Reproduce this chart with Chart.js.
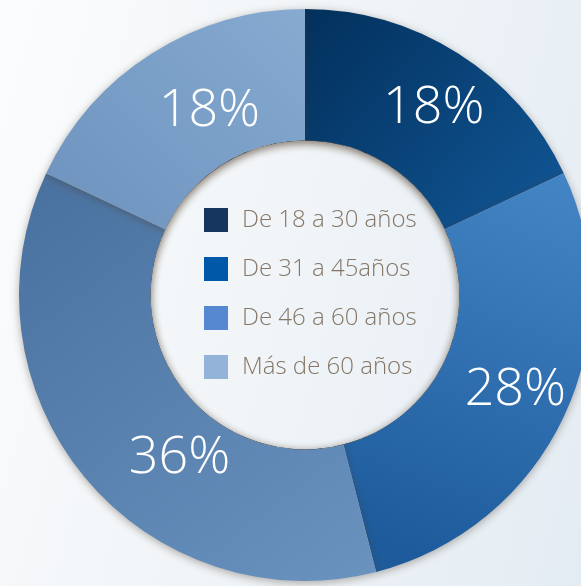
<!DOCTYPE html>
<html>
<head>
<meta charset="utf-8">
<script src="https://cdn.jsdelivr.net/npm/chart.js@4.4.0/dist/chart.umd.min.js"></script>
<style>
  html, body { margin: 0; padding: 0; width: 581px; height: 586px; overflow: hidden; }
  body { position: relative; background: linear-gradient(105deg, #fbfcfd 0%, #f1f5f8 45%, #e4ecf3 100%); }
  #wrap { position: absolute; left: 5px; top: -5px; width: 600px; height: 600px; }
</style>
</head>
<body>
<div id="wrap"><canvas id="ages" width="600" height="600"></canvas></div>
<script>
const labels = ["De 18 a 30 años", "De 31 a 45años", "De 46 a 60 años", "Más de 60 años"];
const shares = [18, 28, 36, 18];
const legendColors = ["#17365f", "#0059a8", "#5588d0", "#94b3d8"];

// slice shading: [start colour, end colour, x0, y0, x1, y1] as fractions of the chart area
const sliceShade = [
  ["#02305c", "#125898", 0.5, 0.0, 0.95, 0.4],
  ["#4385c4", "#1d5b9c", 0.95, 0.3, 0.7, 0.95],
  ["#4a72a0", "#6a92bf", 0.05, 0.3, 0.6, 1.0],
  ["#6e94bf", "#86aad0", 0.1, 0.4, 0.5, 0.0]
];

// where each % label sits: angle shift (deg) and position across the ring (0 inner, 1 outer)
const labelPlace = [[2.2, 0.55], [-0.9, 0.58], [-12.8, 0.39], [4.9, 0.40]];

function sliceColor(ctx) {
  const chart = ctx.chart;
  const a = chart.chartArea;
  if (!a) return legendColors[ctx.dataIndex];
  const s = sliceShade[ctx.dataIndex];
  const w = a.right - a.left, h = a.bottom - a.top;
  const g = chart.ctx.createLinearGradient(a.left + s[2] * w, a.top + s[3] * h, a.left + s[4] * w, a.top + s[5] * h);
  g.addColorStop(0, s[0]);
  g.addColorStop(1, s[1]);
  return g;
}

const shadowPlugin = {
  id: "shadows",
  beforeDatasetsDraw(chart) {
    const c = chart.ctx;
    c.save();
    c.shadowColor = "rgba(70, 55, 40, 0.4)";
    c.shadowBlur = 8;
    c.shadowOffsetY = 2;
  },
  afterDatasetsDraw(chart) {
    const c = chart.ctx;
    c.restore();
    const arc = chart.getDatasetMeta(0).data[0];
    const p = arc.getProps(["x", "y", "innerRadius", "outerRadius"], true);

    // inner shadow of the hole
    c.save();
    c.beginPath();
    c.arc(p.x, p.y, p.innerRadius, 0, Math.PI * 2);
    c.clip();
    c.beginPath();
    c.arc(p.x, p.y, p.innerRadius + 20, 0, Math.PI * 2);
    c.lineWidth = 40;
    c.strokeStyle = "#000";
    c.shadowColor = "rgba(80, 60, 40, 0.45)";
    c.shadowBlur = 8;
    c.shadowOffsetY = 3;
    c.stroke();
    c.restore();

    // percentage labels
    c.save();
    c.fillStyle = "#ffffff";
    c.font = "300 52px 'Open Sans'";
    c.textAlign = "center";
    c.textBaseline = "middle";
    chart.getDatasetMeta(0).data.forEach((el, i) => {
      const q = el.getProps(["x", "y", "innerRadius", "outerRadius", "startAngle", "endAngle"], true);
      const ang = (q.startAngle + q.endAngle) / 2 + labelPlace[i][0] * Math.PI / 180;
      const r = q.innerRadius + (q.outerRadius - q.innerRadius) * labelPlace[i][1];
      c.fillText(shares[i] + "%", q.x + r * Math.cos(ang), q.y + r * Math.sin(ang));
    });
    c.restore();

    // legend in the hole
    c.save();
    c.font = "300 24px 'Open Sans'";
    c.textBaseline = "middle";
    c.textAlign = "left";
    labels.forEach((lab, i) => {
      const y = p.y + (i - 1.5) * 49 - 1.5;
      c.fillStyle = legendColors[i];
      c.fillRect(p.x - 101, y - 12, 24, 24);
      c.fillStyle = "#857767";
      c.fillText(lab, p.x - 63, y);
    });
    c.restore();
  }
};

new Chart(document.getElementById("ages"), {
  type: "doughnut",
  data: {
    labels: labels,
    datasets: [{
      data: shares,
      backgroundColor: sliceColor,
      borderWidth: 0
    }]
  },
  options: {
    responsive: false,
    animation: false,
    devicePixelRatio: 1,
    cutout: "54%",
    layout: { padding: 14 },
    plugins: {
      legend: { display: false },
      tooltip: { enabled: false }
    }
  },
  plugins: [shadowPlugin]
});
</script>
</body>
</html>
